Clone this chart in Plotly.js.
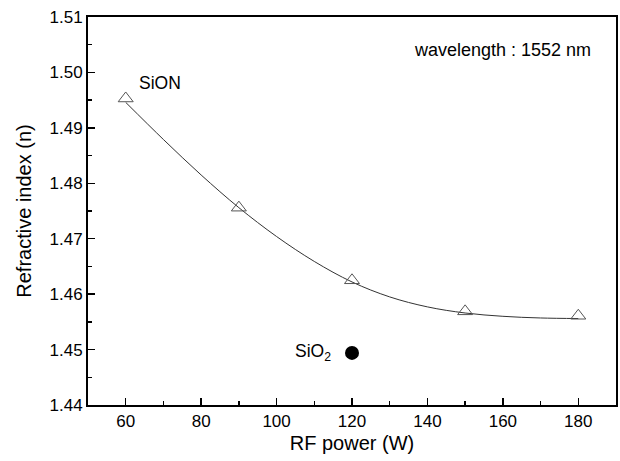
<!DOCTYPE html>
<html><head><meta charset="utf-8">
<script src="https://cdn.plot.ly/plotly-3.0.1.min.js"></script>
<style>html,body{margin:0;padding:0;background:#fff}#c{width:620px;height:461px}</style>
</head><body><div id="c"></div>
<script>
// measured data (SiON films)
const rfPower = [60, 90, 120, 150, 180];
const refIndex = [1.4953, 1.4756, 1.4625, 1.4569, 1.4561];
// fitted curve
const fitPower = [60, 70, 80, 90, 100, 110, 120, 130, 140, 150, 160, 170, 180];
const fitIndex = [1.4946, 1.4879, 1.4815, 1.4756, 1.4704, 1.4659, 1.4622, 1.4595, 1.4577, 1.4566, 1.4560, 1.4557, 1.4556];
// SiO2 reference
const sio2Power = [120];
const sio2Index = [1.4494];
const xTicks = [60, 80, 100, 120, 140, 160, 180];
const yTicks = [1.44, 1.45, 1.46, 1.47, 1.48, 1.49, 1.50, 1.51];

const font = {family: 'Liberation Sans, Arial, sans-serif', color: '#000'};
const traces = [
  {x: fitPower, y: fitIndex, mode: 'lines', line: {color: '#333', width: 1, shape: 'spline'}, hoverinfo: 'skip'},
  {x: rfPower, y: refIndex, mode: 'markers', marker: {symbol: 'triangle-up-open', size: 13, color: '#555', line: {color: '#555', width: 1}}},
  {x: sio2Power, y: sio2Index, mode: 'markers', marker: {symbol: 'circle', size: 14, color: '#000'}}
];
const layout = {
  width: 620, height: 461,
  margin: {l: 88, r: 4, t: 17, b: 56},
  paper_bgcolor: '#fff', plot_bgcolor: '#fff',
  showlegend: false,
  font: Object.assign({size: 17}, font),
  xaxis: {
    range: [50, 190], tickvals: xTicks, ticktext: xTicks.map(String),
    ticks: 'inside', ticklen: 7, tickwidth: 1.5, tickcolor: '#000',
    minor: {dtick: 10, tick0: 50, ticks: 'inside', ticklen: 4, tickwidth: 1.5, tickcolor: '#000'},
    showline: true, linecolor: '#000', linewidth: 2, mirror: true,
    showgrid: false, zeroline: false,
    tickfont: Object.assign({size: 17}, font),
    title: {text: 'RF power (W)', font: Object.assign({size: 20}, font), standoff: 6}
  },
  yaxis: {
    range: [1.44, 1.51], tickvals: yTicks, ticktext: yTicks.map(v => v.toFixed(2)),
    ticks: 'inside', ticklen: 7, tickwidth: 1.5, tickcolor: '#000',
    minor: {dtick: 0.005, tick0: 1.44, ticks: 'inside', ticklen: 4, tickwidth: 1.5, tickcolor: '#000'},
    showline: true, linecolor: '#000', linewidth: 2, mirror: true,
    showgrid: false, zeroline: false,
    tickfont: Object.assign({size: 17}, font),
    title: {text: 'Refractive index (n)', font: Object.assign({size: 20}, font), standoff: 13}
  },
  annotations: [
    {x: 0.956, y: 0.915, xref: 'paper', yref: 'paper', text: 'wavelength : 1552 nm', showarrow: false, xanchor: 'right', yanchor: 'middle', font: Object.assign({size: 18}, font)},
    {x: 63, y: 1.4981, xref: 'x', yref: 'y', text: 'SiON', showarrow: false, xanchor: 'left', yanchor: 'middle', font: Object.assign({size: 17.5}, font)},
    {x: 115, y: 1.4494, xref: 'x', yref: 'y', text: 'SiO<sub>2</sub>', showarrow: false, xanchor: 'right', yanchor: 'middle', font: Object.assign({size: 17.5}, font)}
  ]
};
Plotly.newPlot('c', traces, layout, {staticPlot: true, displayModeBar: false});
</script>
</body></html>
